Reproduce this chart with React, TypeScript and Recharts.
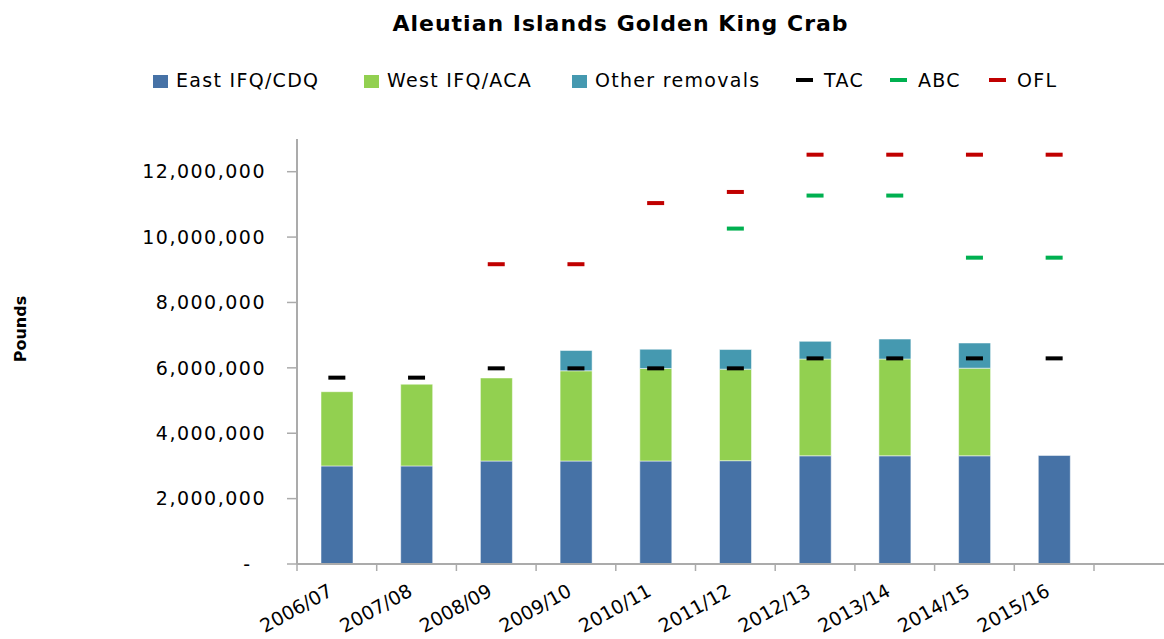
import { ComposedChart, Bar, Line, XAxis, YAxis, Legend } from 'recharts'

const seasons = ['2006/07', '2007/08', '2008/09', '2009/10', '2010/11', '2011/12', '2012/13', '2013/14', '2014/15', '2015/16']
const eastIfqCdq = [3000000, 3000000, 3150000, 3150000, 3150000, 3160000, 3310000, 3310000, 3310000, 3320000]
const westIfqAca = [2270000, 2500000, 2540000, 2760000, 2830000, 2800000, 2960000, 2960000, 2680000, null]
const otherRemovals = [null, null, null, 620000, 590000, 600000, 540000, 610000, 770000, null]
const tac = [5700000, 5700000, 5985000, 5985000, 5985000, 5985000, 6290000, 6290000, 6290000, 6290000]
const abc = [null, null, null, null, null, 10260000, 11270000, 11270000, 9370000, 9370000]
const ofl = [null, null, 9170000, 9170000, 11040000, 11380000, 12520000, 12520000, 12520000, 12520000]
const yTicks = [0, 2000000, 4000000, 6000000, 8000000, 10000000, 12000000]

const data = seasons.map((season, i) => ({
  season,
  east: eastIfqCdq[i],
  west: westIfqAca[i],
  other: otherRemovals[i],
  tac: tac[i],
  abc: abc[i],
  ofl: ofl[i],
}))

const FONT = '"DejaVu Sans", sans-serif'
const AXIS = '#ABABAB'

const legendItems = [
  { name: 'East IFQ/CDQ', color: '#4672A6', kind: 'box', left: 153 },
  { name: 'West IFQ/ACA', color: '#92D050', kind: 'box', left: 364 },
  { name: 'Other removals', color: '#4599B0', kind: 'box', left: 572 },
  { name: 'TAC', color: '#000000', kind: 'dash', left: 796 },
  { name: 'ABC', color: '#00B050', kind: 'dash', left: 890 },
  { name: 'OFL', color: '#C00000', kind: 'dash', left: 989 },
]

function ChartLegend() {
  return (
    <div style={{ position: 'relative', height: 30, fontFamily: FONT, fontSize: 19, letterSpacing: 1.3, color: '#000' }}>
      {legendItems.map((it) => (
        <div key={it.name} style={{ position: 'absolute', left: it.left, top: 0, display: 'flex', alignItems: 'center', height: 30, whiteSpace: 'nowrap' }}>
          {it.kind === 'box' ? (
            <span style={{ display: 'inline-block', width: 15, height: 13, background: it.color, marginRight: 8, marginTop: 3 }} />
          ) : (
            <span style={{ display: 'inline-block', width: 17, height: 4, background: it.color, marginRight: 11 }} />
          )}
          <span>{it.name}</span>
        </div>
      ))}
    </div>
  )
}

const dash = (color: string) => (props: any) => {
  const { cx, cy, value, index } = props
  if (cx == null || cy == null || value == null) return <g key={`d${index}`} />
  return <rect key={`d${index}`} x={cx - 8.5} y={cy - 2} width={17} height={4} fill={color} />
}

function YTick({ x, y, payload }: any) {
  const v = payload.value as number
  if (v === 0) {
    return (
      <text x={x - 16} y={y} dy="0.355em" textAnchor="end" fontFamily={FONT} fontSize={19} fill="#000">
        -
      </text>
    )
  }
  return (
    <text x={x} y={y} dy="0.355em" textAnchor="end" fontFamily={FONT} fontSize={19} letterSpacing={1.5} fill="#000">
      {v.toLocaleString('en-US')}
    </text>
  )
}

function XTick({ x, y, payload, index }: any) {
  const half = payload.offset || 39.85
  return (
    <g>
      <line x1={x - half} x2={x - half} y1={y} y2={y + 7} stroke={AXIS} strokeWidth={1.5} />
      {index === seasons.length - 1 && <line x1={x + half} x2={x + half} y1={y} y2={y + 7} stroke={AXIS} strokeWidth={1.5} />}
      <text
        transform={`translate(${x - 3},${y + 31}) rotate(-29)`}
        textAnchor="end"
        fontFamily={FONT}
        fontSize={19}
        fill="#000"
      >
        {payload.value}
      </text>
    </g>
  )
}

export default function App() {
  return (
    <div style={{ position: 'absolute', left: 0, top: 0, width: 1164, height: 639, background: '#fff' }}>
      <div
        style={{
          position: 'absolute',
          top: 13,
          left: 0,
          width: 1241,
          textAlign: 'center',
          fontFamily: FONT,
          fontWeight: 'bold',
          fontSize: 22,
          letterSpacing: 1,
          lineHeight: '22px',
          color: '#000',
        }}
      >
        Aleutian Islands Golden King Crab
      </div>
      <ComposedChart width={1164} height={639} data={data} margin={{ top: 109, right: 0, bottom: 0, left: 0 }}>
        <Legend verticalAlign="top" content={<ChartLegend />} wrapperStyle={{ top: 65, left: 0, width: 1164 }} />
        <XAxis
          dataKey="season"
          height={75}
          padding={{ left: 0, right: 70 }}
          axisLine={{ stroke: AXIS, strokeWidth: 2 }}
          tickLine={false}
          tickSize={0}
          tickMargin={0}
          interval={0}
          tick={<XTick />}
        />
        <YAxis
          width={297}
          domain={[0, 13000000]}
          ticks={yTicks}
          interval={0}
          axisLine={{ stroke: AXIS, strokeWidth: 2 }}
          tickLine={{ stroke: AXIS, strokeWidth: 1.5 }}
          tickSize={10}
          tickMargin={21}
          tick={<YTick />}
          label={{
            content: () => (
              <text
                x={20}
                y={329}
                transform="rotate(-90 20 329)"
                textAnchor="middle"
                dominantBaseline="central"
                fontFamily={FONT}
                fontWeight="bold"
                fontSize={16}
                fill="#000"
              >
                Pounds
              </text>
            ),
          }}
        />
        <Bar dataKey="east" name="East IFQ/CDQ" stackId="a" fill="#4672A6" stroke="rgba(255,255,255,0.5)" barSize={32} isAnimationActive={false} />
        <Bar dataKey="west" name="West IFQ/ACA" stackId="a" fill="#92D050" stroke="rgba(255,255,255,0.5)" barSize={32} isAnimationActive={false} />
        <Bar dataKey="other" name="Other removals" stackId="a" fill="#4599B0" stroke="rgba(255,255,255,0.5)" barSize={32} isAnimationActive={false} />
        <Line dataKey="tac" name="TAC" stroke="none" dot={dash('#000000')} activeDot={false} isAnimationActive={false} />
        <Line dataKey="abc" name="ABC" stroke="none" dot={dash('#00B050')} activeDot={false} isAnimationActive={false} />
        <Line dataKey="ofl" name="OFL" stroke="none" dot={dash('#C00000')} activeDot={false} isAnimationActive={false} />
      </ComposedChart>
    </div>
  )
}
